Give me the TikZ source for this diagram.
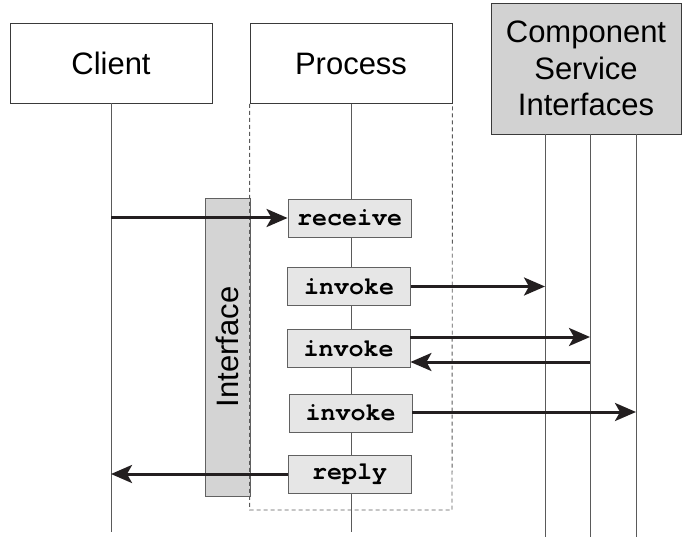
\documentclass[tikz,border=0pt]{standalone}
\usepackage{fontspec}
\setmainfont{Liberation Sans}
\newfontfamily\codefont{TeX Gyre Cursor}
\usetikzlibrary{arrows.meta}
\definecolor{boxline}{HTML}{3A3A3A}
\definecolor{lifeline}{HTML}{5A5A5A}
\definecolor{arrowcol}{HTML}{231F20}
\definecolor{actfill}{HTML}{E6E6E6}
\definecolor{ifill}{HTML}{D4D4D4}
\definecolor{cfill}{HTML}{D2D2D2}
\tikzset{
  header/.style={draw=boxline, line width=0.9pt, fill=white, minimum width=202pt, minimum height=80pt, inner sep=0pt, font=\fontsize{31}{36.5}\selectfont, align=center},
  actbox/.style={draw=boxline!80, line width=0.9pt, fill=actfill, minimum width=123pt, minimum height=38pt, inner sep=0pt, font=\codefont\bfseries\fontsize{25}{28}\selectfont},
  life/.style={draw=lifeline, line width=0.9pt},
  msg/.style={draw=arrowcol, line width=3pt, -{Stealth[length=21pt, width=18pt, inset=5pt]}},
}
\begin{document}
\begin{tikzpicture}[x=1pt, y=-1pt]
\useasboundingbox (0,0) rectangle (682,537);
% headers
\node[header] (client) at (111,63) {Client};
\node[header] (process) at (351,63.5) {Process};
\node[header, fill=cfill, minimum width=190pt, minimum height=131pt] (comp) at (586,68.5) {Component\\Service\\Interfaces};
% lifelines
\coordinate (cl) at (111,532);
\coordinate (pl) at (351,532);
\coordinate (c1t) at (545,134); \coordinate (c1b) at (545,537);
\coordinate (c2t) at (590,134); \coordinate (c2b) at (590,537);
\coordinate (c3t) at (636,134); \coordinate (c3b) at (636,537);
\draw[life] (client.south) -- (cl);
\draw[life] (process.south) -- (pl);
\draw[life] (c1t) -- (c1b);
\draw[life] (c2t) -- (c2b);
\draw[life] (c3t) -- (c3b);
% interface bar
\node[draw=boxline!80, line width=0.9pt, fill=ifill, minimum width=45pt, minimum height=298pt, inner sep=0pt] (iface) at (227.5,347) {};
\node[rotate=90, font=\fontsize{31}{36}\selectfont] (ifacelabel) at (iface.center) {Interface};
% dashed process region
\coordinate (d2) at (452,510);
\draw[lifeline, line width=0.9pt, dash pattern=on 4pt off 3pt] (process.south west) |- (d2) -- (process.south east);
% activity boxes
\node[actbox] (recv) at (349.5,218) {receive};
\node[actbox] (inv1) at (349,286.5) {invoke};
\node[actbox] (inv2) at (348.5,348.5) {invoke};
\node[actbox] (inv3) at (350.5,413) {invoke};
\node[actbox] (reply) at (349.5,474) {reply};
% messages
\draw[msg] (client.south |- recv.west) -- (recv.west);
\draw[msg] (inv1.east) -- (c1t |- inv1.east);
\coordinate (a2s) at ([yshift=11.5pt]inv2.east);
\draw[msg] (a2s) -- (c2t |- a2s);
\coordinate (a3e) at ([yshift=-13.5pt]inv2.east);
\draw[msg] (c2t |- a3e) -- (a3e);
\coordinate (a4s) at ([yshift=1pt]inv3.east);
\draw[msg] (a4s) -- (c3t |- a4s);
\draw[msg] (reply.west) -- (client.south |- reply.west);
\end{tikzpicture}
\end{document}
